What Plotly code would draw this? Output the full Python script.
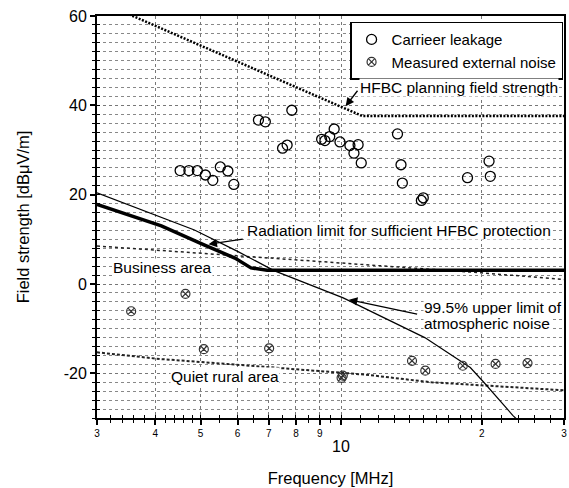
import numpy as np
import plotly.graph_objects as go

# ---------------- data ----------------
leak_f = [4.52, 4.72, 4.92, 5.12, 5.31, 5.51, 5.72, 5.89, 6.65, 6.88, 7.49, 7.66, 7.84,
          9.08, 9.23, 9.45, 9.66, 9.94, 10.44, 10.65, 10.87, 11.04, 13.2, 13.43, 13.52,
          14.85, 14.99, 18.64, 20.73, 20.86]
leak_v = [25.4, 25.4, 25.4, 24.4, 23.2, 26.2, 25.3, 22.3, 36.7, 36.3, 30.4, 31.1, 38.9,
          32.4, 32.1, 33.0, 34.7, 31.8, 31.0, 29.3, 31.2, 27.1, 33.6, 26.7, 22.6,
          18.7, 19.3, 23.8, 27.5, 24.1]

noise_f = [3.55, 4.64, 5.08, 7.01, 10.02, 10.08, 14.18, 15.14, 18.21, 21.41, 25.06]
noise_v = [-6.1, -2.2, -14.6, -14.4, -21.0, -20.5, -17.2, -19.4, -18.3, -17.9, -17.7]

hfbc_f = [3.0, 11.1, 30.0]
hfbc_v = [63.5, 37.6, 37.6]

rad_f = [3.0, 4.12, 5.1, 5.92, 6.41, 6.94, 30.0]
rad_v = [17.8, 13.0, 8.7, 5.8, 3.6, 3.1, 3.1]

atm_f = [3.0, 4.85, 6.0, 7.18, 10.1, 15.1, 18.9, 20.2, 23.3, 25.0]
atm_v = [20.4, 12.1, 7.3, 3.0, -3.1, -12.0, -18.7, -22.0, -29.4, -32.5]

bus_f = [3.0, 4.0, 10.0, 20.0, 30.0]
bus_v = [8.5, 7.6, 4.8, 2.5, 1.0]

rural_f = [3.0, 4.1, 5.7, 7.9, 10.0, 11.3, 15.6, 20.2, 30.0]
rural_v = [-15.3, -16.8, -17.9, -19.0, -19.8, -20.3, -22.0, -22.7, -23.8]

x_major = [3, 4, 5, 6, 7, 8, 9, 10, 20, 30]
x_major_text = ["3", "4", "5", "6", "7", "8", "9", "", "2", "3"]
x_minor = [3.2, 3.4, 3.6, 3.8, 4.2, 4.4, 4.6, 4.8, 5.5, 6.5, 7.5, 8.5, 9.5,
           11, 12, 13, 14, 15, 16, 17, 18, 19, 22, 24, 26, 28]
y_major = [-20, 0, 20, 40, 60]
y_major_text = ["-20", "0", "20", "40", "60"]

FONT = "Liberation Sans, Arial, Helvetica, sans-serif"

fig = go.Figure()

fig.add_trace(go.Scatter(x=hfbc_f, y=hfbc_v, mode="lines", showlegend=False,
                         line=dict(color="black", width=2.5, dash="2px,1.5px")))
fig.add_trace(go.Scatter(x=bus_f, y=bus_v, mode="lines", showlegend=False,
                         line=dict(color="#222", width=1.5, dash="dot")))
fig.add_trace(go.Scatter(x=rural_f, y=rural_v, mode="lines", showlegend=False,
                         line=dict(color="#222", width=2, dash="3px,2px")))
fig.add_trace(go.Scatter(x=atm_f, y=atm_v, mode="lines", showlegend=False,
                         line=dict(color="black", width=1.2)))
fig.add_trace(go.Scatter(x=rad_f, y=rad_v, mode="lines", showlegend=False,
                         line=dict(color="black", width=3.5)))

fig.add_trace(go.Scatter(x=leak_f, y=leak_v, mode="markers", name="Carrieer leakage",
                         marker=dict(symbol="circle-open", size=10, color="black",
                                     line=dict(width=1.3, color="black"))))
fig.add_trace(go.Scatter(x=noise_f, y=noise_v, mode="markers", name="Measured external noise",
                         marker=dict(symbol="circle-x-open", size=9, color="#333",
                                     line=dict(width=1.2, color="#333"))))

# dummy trace for overlay axes (cross ticks)
fig.add_trace(go.Scatter(x=[3], y=[-40], xaxis="x2", yaxis="y2", mode="markers",
                         showlegend=False, hoverinfo="skip", marker=dict(opacity=0)))

xr = [np.log10(3), np.log10(30)]
yr = [-30, 60]

fig.update_layout(
    width=569, height=488,
    margin=dict(l=97, r=3, t=16, b=67),
    paper_bgcolor="white", plot_bgcolor="white",
    font=dict(family=FONT, color="black"),
    showlegend=True,
    legend=dict(x=0.998, y=0.986, xanchor="right", yanchor="top",
                bordercolor="black", borderwidth=1.5, bgcolor="white",
                font=dict(size=15, family=FONT), tracegroupgap=0),
    xaxis=dict(type="log", range=xr, tickmode="array", tickvals=x_major,
               ticktext=x_major_text, tickfont=dict(size=10, family=FONT),
               ticks="outside", ticklen=5, tickwidth=1.5, tickcolor="black",
               showline=True, linewidth=2, linecolor="black", mirror=True,
               showgrid=True, gridcolor="#777", griddash="dot", gridwidth=1,
               zeroline=False,
               minor=dict(tickmode="array", tickvals=x_minor, ticks="outside",
                          ticklen=3, tickwidth=1.2, tickcolor="black", showgrid=False),
               title=dict(text="Frequency [MHz]", font=dict(size=16.5, family=FONT),
                          standoff=34)),
    yaxis=dict(range=yr, tickmode="array", tickvals=y_major, ticktext=y_major_text,
               tickfont=dict(size=16, family=FONT),
               ticks="outside", ticklen=5, tickwidth=1.5, tickcolor="black",
               showline=True, linewidth=2, linecolor="black", mirror=True,
               showgrid=True, gridcolor="#777", griddash="dot", gridwidth=1,
               zeroline=False,
               minor=dict(dtick=2, ticks="outside", ticklen=3, tickwidth=1.2,
                          tickcolor="black", showgrid=True, gridcolor="#888",
                          griddash="dot", gridwidth=1),
               title=dict(text="Field strength [dB\u03bcV/m]", font=dict(size=16.5, family=FONT),
                          standoff=30)),
    xaxis2=dict(type="log", range=xr, overlaying="x", anchor="y2", side="bottom",
                tickmode="array", tickvals=x_major + x_minor, showticklabels=False,
                ticks="inside", ticklen=3, tickwidth=1.2, tickcolor="black",
                showgrid=False, zeroline=False, showline=False),
    yaxis2=dict(range=yr, overlaying="y", anchor="x2", side="left",
                dtick=2, showticklabels=False, ticks="inside", ticklen=3,
                tickwidth=1.2, tickcolor="black", showgrid=False, zeroline=False,
                showline=False),
)

L = np.log10
ann_font = dict(size=15.5, family=FONT, color="black")

# "10" tick label (bigger, lower)
fig.add_annotation(x=L(10), y=-0.071, xref="x", yref="paper", text="10", showarrow=False,
                   font=dict(size=16, family=FONT), xanchor="center", yanchor="middle")

# text labels
fig.add_annotation(x=L(10.9), y=44.0, text="HFBC planning field strength", showarrow=False,
                   xanchor="left", yanchor="middle", font=ann_font, bgcolor="white", borderpad=0)
fig.add_annotation(x=L(6.26), y=11.9, text="Radiation limit for sufficient HFBC protection",
                   showarrow=False, xanchor="left", yanchor="middle", font=ann_font,
                   bgcolor="white", borderpad=0)
fig.add_annotation(x=L(3.23), y=3.7, text="Business area", showarrow=False,
                   xanchor="left", yanchor="middle", font=ann_font, bgcolor="white", borderpad=0)
fig.add_annotation(x=L(4.31), y=-20.7, text="Quiet rural area", showarrow=False,
                   xanchor="left", yanchor="middle", font=ann_font, bgcolor="white", borderpad=0)
fig.add_annotation(x=L(14.94), y=-5.2, text="99.5% upper limit of", showarrow=False,
                   xanchor="left", yanchor="middle", font=ann_font, bgcolor="white", borderpad=0)
fig.add_annotation(x=L(14.94), y=-8.9, text="atmospheric noise", showarrow=False,
                   xanchor="left", yanchor="middle", font=ann_font, bgcolor="white", borderpad=0)

# arrows
arrow_kw = dict(showarrow=True, text="", arrowhead=2, arrowsize=1.3, arrowwidth=1.3,
                arrowcolor="black", axref="x", ayref="y", xref="x", yref="y")
fig.add_annotation(x=L(10.22), y=39.8, ax=L(10.9), ay=43.6, **arrow_kw)
fig.add_annotation(x=L(5.2), y=8.9, ax=L(6.2), ay=10.1, **arrow_kw)
fig.add_annotation(x=L(10.39), y=-3.5, ax=L(14.65), ay=-6.8, **arrow_kw)

fig.write_html("out.html", config={"displayModeBar": False},
               post_script="document.body.style.margin='0px';document.body.style.overflow='hidden';")
